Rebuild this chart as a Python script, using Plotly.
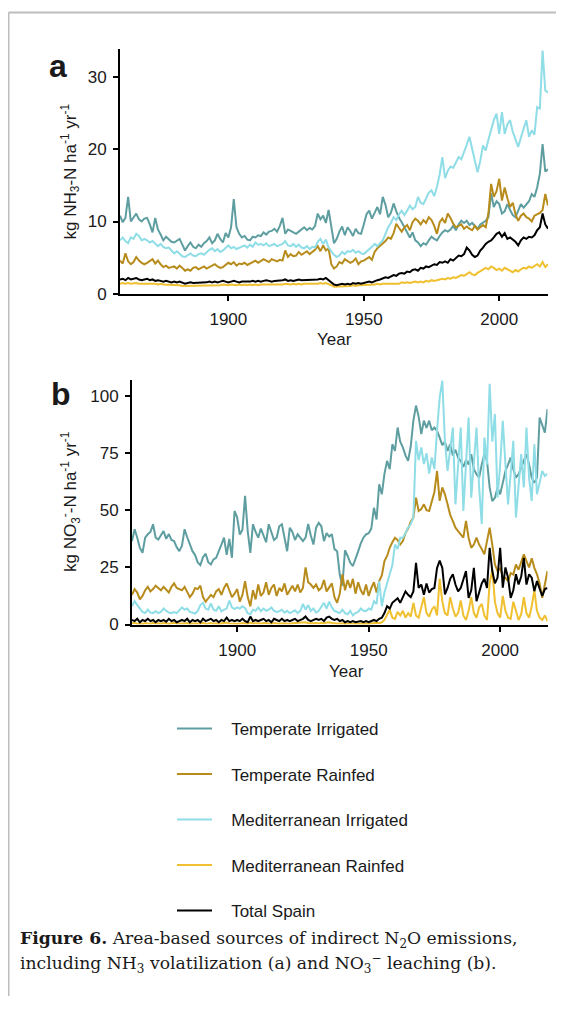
import plotly.graph_objects as go

# the page body keeps its default 8px margin on every side, so the figure is
# drawn 16px smaller than the window; every position below is given in
# window pixels and shifted by that margin. The photographed page comes out
# about 1.2% shorter than laid out, so vertical targets are stretched by SY.
W, H = 564, 1014
PAD = 8
FW, FH = W - 2 * PAD, H - 2 * PAD
SY = 1.012

years = list(range(1860, 2019))

series_names = ['Temperate Irrigated', 'Temperate Rainfed', 'Mediterranean Irrigated',
                'Mediterranean Rainfed', 'Total Spain']
series_colors = ['#5f9ea0', '#b88c1c', '#8fdde6', '#f0c030', '#000000']

# panel a: NH3 volatilization, kg NH3-N / ha / yr, one value per year 1860-2018
nh3_temp_irr = [
    10.8, 9.9, 10.5, 13.4, 10.0, 10.6, 11.1, 10.3, 10.0, 10.4,
    10.5, 9.6, 8.5, 10.5, 8.9, 8.2, 7.4, 7.9, 7.6, 7.2,
    7.1, 7.4, 7.6, 6.8, 6.0, 6.6, 7.1, 6.5, 6.3, 6.8,
    6.5, 7.0, 7.3, 7.8, 7.0, 7.4, 8.3, 7.6, 7.1, 8.4,
    7.8, 9.2, 13.1, 9.2, 8.3, 7.8, 8.0, 7.5, 7.4, 7.9,
    7.8, 8.1, 8.0, 8.5, 8.2, 8.6, 8.7, 9.0, 8.6, 9.4,
    10.5, 8.3, 8.9, 8.7, 8.5, 8.3, 8.6, 8.9, 9.2, 8.8,
    9.1, 8.9, 9.4, 11.1, 10.3, 10.8, 9.8, 11.6, 9.3, 7.0,
    7.6, 8.6, 9.3, 8.1, 9.2, 8.7, 8.0, 9.0, 8.4, 8.3,
    9.6, 11.0, 11.5, 10.4, 11.2, 12.0, 11.0, 13.4, 12.3, 10.6,
    11.2, 12.5, 11.4, 10.5, 9.9, 9.2, 8.4, 7.8, 8.5, 7.4,
    7.1, 6.6, 7.0, 6.8, 7.4, 7.9, 7.6, 7.4, 8.0, 8.5,
    8.8, 8.6, 8.9, 9.4, 8.8, 9.6, 10.1, 9.8, 10.1, 9.5,
    9.8, 9.4, 9.0, 9.6, 9.9, 10.1, 10.6, 13.9, 12.0, 12.8,
    12.4, 11.1, 11.4, 12.4, 11.6, 10.9, 10.6, 11.5, 12.4, 11.9,
    12.4, 12.8, 13.8, 13.4, 14.7, 16.6, 20.7, 16.9, 17.2,
]
nh3_temp_rain = [
    4.6, 4.2, 5.6, 4.5, 4.1, 4.4, 5.1, 4.6, 4.3, 4.1,
    4.3, 4.6, 4.8, 4.2, 4.6, 4.1, 3.7, 3.9, 3.6, 3.7,
    3.8, 3.5, 3.9, 3.6, 3.2, 3.4, 3.2, 3.6, 3.7, 3.4,
    3.6, 3.8, 3.5, 3.7, 3.9, 4.1, 3.8, 3.6, 3.7, 4.0,
    4.3, 4.1, 4.4, 3.9, 4.2, 4.1, 4.3, 4.0, 4.2, 4.4,
    4.6, 4.3, 4.5, 4.8, 4.6, 4.4, 4.8, 4.6, 4.5, 4.7,
    4.6, 6.0, 5.1, 5.5, 5.2, 5.3, 5.8, 5.4, 5.6, 5.9,
    5.5, 5.8, 6.1, 6.6, 5.9, 6.7, 6.0, 6.3, 4.1, 3.5,
    3.8, 4.4, 4.2, 4.8, 4.6, 4.3, 4.5, 4.9, 4.1, 4.5,
    4.6, 4.9, 5.1, 4.7, 5.8, 6.3, 6.6, 6.9, 7.3, 7.8,
    7.6, 8.4, 9.7, 9.1, 8.6, 9.2, 9.5, 8.8, 9.9, 10.4,
    10.1, 9.6, 10.2, 9.8, 10.6, 10.2, 9.4, 8.3, 9.9, 10.4,
    9.8, 11.1, 10.5, 9.7, 9.2, 9.4, 9.6, 9.0, 9.3, 9.0,
    8.8, 9.4, 8.9, 9.2, 9.5, 9.2, 11.1, 15.2, 13.4, 14.2,
    15.9, 12.9, 14.7, 13.2, 12.0, 12.6, 11.0, 10.1, 10.8, 11.1,
    10.6, 10.4, 10.0, 10.8, 11.0, 11.2, 11.6, 13.8, 12.2,
]
nh3_med_irr = [
    7.4, 7.8, 7.3, 7.0, 7.8, 7.6, 8.3, 8.0, 7.4, 7.6,
    7.4, 7.1, 7.3, 6.9, 6.6, 6.9, 6.5, 6.3, 6.4, 6.0,
    5.6, 5.9, 5.5, 5.2, 5.1, 5.4, 5.6, 5.3, 5.2, 5.5,
    5.6, 5.4, 5.8, 6.1, 6.3, 5.9, 6.2, 5.8, 6.0, 6.4,
    6.7, 6.3, 6.5, 6.2, 6.4, 6.6, 6.7, 6.4, 6.8, 6.5,
    7.1, 6.8, 6.9, 6.7, 7.0, 6.6, 6.8, 6.9, 6.6, 6.8,
    6.9, 7.3, 6.7, 6.6, 6.9, 6.5, 6.8, 6.4, 6.3, 6.6,
    6.2, 6.5, 6.4, 7.2, 7.6, 6.9, 7.5, 6.4, 5.9, 5.4,
    5.1, 5.3, 5.8, 5.5, 5.9, 5.8, 6.1, 5.7, 5.9, 5.6,
    5.5, 5.8, 6.1, 6.5, 6.9, 6.6, 7.0, 7.4, 8.3, 9.2,
    9.8, 10.6, 10.2, 11.0, 11.5, 10.9, 11.5, 12.2, 11.7, 12.0,
    13.4, 12.6, 12.4, 13.2, 14.0, 14.3, 13.5, 14.8, 16.5, 18.9,
    16.0, 17.0, 17.6, 17.4, 18.2, 18.9, 18.6, 19.5, 20.6, 21.7,
    19.8, 18.4, 16.8, 18.4, 20.5, 19.8, 21.3, 22.6, 24.0, 24.9,
    22.1, 25.1, 22.1, 23.4, 24.0, 22.4, 21.2, 20.3, 21.6, 22.9,
    24.0, 21.7, 22.6, 22.0, 25.8, 25.6, 33.6, 28.1, 27.8,
]
nh3_med_rain = [
    1.4, 1.5, 1.4, 1.5, 1.4, 1.5, 1.5, 1.4, 1.4, 1.5,
    1.4, 1.4, 1.5, 1.4, 1.3, 1.4, 1.3, 1.3, 1.3, 1.2,
    1.3, 1.2, 1.2, 1.1, 1.1, 1.2, 1.1, 1.1, 1.2, 1.1,
    1.2, 1.1, 1.2, 1.2, 1.1, 1.2, 1.2, 1.2, 1.3, 1.2,
    1.2, 1.3, 1.2, 1.2, 1.3, 1.2, 1.3, 1.2, 1.3, 1.2,
    1.3, 1.2, 1.3, 1.3, 1.2, 1.3, 1.3, 1.2, 1.3, 1.3,
    1.3, 1.4, 1.3, 1.3, 1.4, 1.3, 1.4, 1.3, 1.4, 1.4,
    1.4, 1.3, 1.4, 1.4, 1.5, 1.4, 1.5, 1.4, 1.2, 1.0,
    1.0, 1.1, 1.1, 1.0, 1.1, 1.1, 1.2, 1.1, 1.2, 1.2,
    1.2, 1.3, 1.2, 1.3, 1.3, 1.4, 1.3, 1.4, 1.4, 1.5,
    1.4, 1.5, 1.5, 1.4, 1.6, 1.5, 1.6, 1.5, 1.6, 1.7,
    1.6, 1.7, 1.6, 1.8, 1.7, 1.9, 1.8, 1.9, 2.0, 2.1,
    2.0, 2.2, 2.1, 2.3, 2.2, 2.4, 2.6, 2.5, 2.8, 3.0,
    2.7, 2.6, 2.9, 3.1, 3.4, 3.6, 3.4, 3.8, 3.6, 3.3,
    3.5, 3.2, 3.6, 3.4, 3.2, 3.0, 3.3, 3.1, 3.4, 3.6,
    3.5, 3.8, 3.6, 3.9, 4.1, 3.8, 4.4, 3.7, 4.1,
]
nh3_total = [
    2.0, 2.1, 1.9, 2.2, 2.0, 2.1, 2.2, 2.0, 1.9, 2.0,
    2.1, 1.9, 2.0, 1.8, 1.9, 1.8, 1.7, 1.8, 1.7, 1.6,
    1.7, 1.6, 1.7, 1.5, 1.4, 1.5, 1.6, 1.5, 1.5, 1.6,
    1.6, 1.5, 1.6, 1.7, 1.6, 1.7, 1.6, 1.7, 1.8, 1.7,
    1.6, 1.7, 1.8, 1.7, 1.6, 1.7, 1.7, 1.6, 1.7, 1.8,
    1.7, 1.8, 1.7, 1.8, 1.9, 1.8, 1.7, 1.8, 1.8, 1.9,
    1.9, 2.0, 1.8, 1.9, 1.8, 1.9, 2.0, 1.9, 1.9, 2.0,
    1.9, 2.0, 1.9, 2.0, 2.1, 2.0, 2.2, 1.9, 1.5, 1.3,
    1.2, 1.3, 1.4, 1.3, 1.4, 1.3, 1.5, 1.4, 1.5, 1.4,
    1.5, 1.6, 1.7, 1.6, 1.8, 1.9, 2.0, 2.1, 2.3, 2.2,
    2.4, 2.6, 2.5, 2.8, 2.9, 2.8, 3.1, 3.0, 3.3, 3.4,
    3.2, 3.6, 3.5, 3.8, 3.7, 3.9, 4.1, 4.0, 4.4, 4.3,
    4.5, 4.3, 4.8, 4.6, 5.0, 5.3, 5.2, 5.5, 6.4, 6.0,
    5.4, 5.1, 5.3, 6.0, 6.4, 6.9, 7.2, 7.4, 7.8, 8.3,
    8.5, 7.9, 8.4, 7.6, 7.8, 7.5, 7.2, 6.7, 7.4, 7.8,
    7.6, 7.9, 7.8, 8.1, 8.8, 9.2, 11.1, 9.6, 9.0,
]

# panel b: NO3- leaching, kg NO3-N / ha / yr, one value per year 1860-2018
no3_temp_irr = [
    36.5, 41.7, 38.0, 33.5, 31.4, 38.0, 39.5, 40.5, 43.9, 38.0,
    37.2, 38.8, 40.9, 37.5, 39.6, 37.0, 36.5, 33.8, 32.1, 34.5,
    41.7, 38.2, 35.5, 32.1, 30.4, 27.2, 26.0, 29.5, 31.0, 27.3,
    26.3, 28.5, 29.2, 31.8, 35.0, 38.0, 30.5, 37.5, 29.2, 49.7,
    46.8, 39.4, 41.5, 56.3, 40.9, 31.4, 43.9, 40.5, 38.0, 42.0,
    39.4, 36.0, 43.9, 40.5, 37.0, 38.0, 43.0, 43.9, 38.5, 32.1,
    42.4, 40.5, 37.0, 39.5, 38.0, 36.5, 38.0, 44.0, 39.0, 35.0,
    42.4, 44.5, 43.0, 36.5, 40.0, 38.5, 39.5, 33.0, 32.1, 21.9,
    17.0, 32.5, 30.0, 27.0, 25.6, 28.5, 32.0, 35.5, 38.0, 39.5,
    40.0, 42.0, 51.1, 46.0, 61.4, 57.0, 66.0, 71.6, 68.0, 78.9,
    76.0, 86.2, 80.0, 77.5, 74.0, 71.6, 78.0, 89.2, 95.8, 91.0,
    83.3, 89.2, 86.0, 89.2, 85.0, 86.2, 84.8, 81.8, 78.5, 80.0,
    76.0, 78.9, 74.0, 76.5, 73.0, 71.6, 69.0, 72.0, 70.0, 74.5,
    68.0, 65.8, 64.3, 70.0, 74.6, 71.6, 60.0, 54.0, 55.5, 59.9,
    57.0, 62.0, 67.2, 70.0, 73.1, 68.0, 64.3, 65.8, 69.0, 71.6,
    74.6, 70.0, 64.3, 62.0, 64.3, 90.6, 87.7, 84.0, 94.3,
]
no3_temp_rain = [
    13.0, 15.5, 14.0, 11.0, 12.5, 15.0, 16.5, 14.5, 15.5, 17.0,
    16.0, 15.0, 16.5, 15.0, 14.0, 16.5, 18.0, 16.0, 15.5, 15.0,
    16.5, 14.0, 12.0, 13.5, 16.0, 15.5, 17.0, 12.0, 10.0, 11.5,
    13.0, 12.0, 14.5, 15.5, 13.0, 16.0, 18.0, 15.0, 12.0, 13.5,
    15.5, 10.0, 13.0, 19.0, 12.0, 8.0, 15.0, 11.0, 17.5, 12.5,
    14.0, 18.5, 13.0, 16.0, 17.5, 12.5, 16.0, 14.5, 18.0, 13.0,
    15.0, 17.0, 14.5, 17.5, 14.0, 16.0, 25.0, 18.5, 17.5, 16.0,
    17.5, 15.0, 16.0, 19.5, 14.5, 16.0, 18.0, 12.0, 9.5, 13.5,
    22.0, 15.0, 19.5, 16.0, 20.0, 13.5, 18.5, 15.0, 13.0, 17.5,
    12.5, 16.0, 18.5, 14.0, 19.0, 21.5, 27.8, 30.0, 33.6, 36.0,
    38.0, 37.0, 35.0, 36.5, 40.0, 42.0, 45.0, 46.8, 55.5, 49.7,
    50.5, 52.6, 50.0, 49.7, 54.1, 58.0, 67.2, 54.1, 60.0, 57.0,
    52.6, 48.0, 45.3, 42.4, 40.9, 39.5, 38.0, 45.3, 38.0, 33.6,
    35.0, 38.0, 35.0, 33.0, 30.7, 36.5, 42.4, 35.0, 26.3, 23.4,
    24.5, 21.0, 20.5, 19.0, 22.5, 21.9, 26.3, 24.0, 27.5, 30.7,
    27.8, 25.0, 29.0, 24.8, 22.0, 18.0, 11.7, 17.0, 23.4,
]
no3_med_irr = [
    8.0, 10.2, 8.5, 7.0, 5.5, 5.0, 6.5, 5.2, 5.0, 5.8,
    5.0, 5.5, 7.0, 6.0, 5.2, 5.0, 5.5, 5.0, 6.5, 7.5,
    6.5, 7.0, 5.5, 5.0, 4.8, 6.0, 8.5, 9.5, 7.0, 6.5,
    9.2, 6.5, 6.0, 8.0, 5.8, 6.5, 7.0, 10.5, 7.5, 6.8,
    7.5, 7.0, 8.0, 7.2, 5.0, 4.5, 6.5, 6.0, 7.5, 5.8,
    7.0, 6.0, 6.5, 7.5, 6.0, 5.5, 5.8, 6.5, 5.2, 6.0,
    5.0, 5.5, 6.2, 5.0, 6.0, 9.0, 6.5, 8.5, 6.0, 7.0,
    5.2, 6.0, 7.5, 9.5, 7.0, 10.0, 7.5, 6.0, 5.5, 5.0,
    6.5, 5.0, 4.5, 6.0, 4.0, 5.0, 5.5, 7.0, 6.0, 5.8,
    7.0, 6.5, 10.2, 9.0, 19.0, 8.0, 14.0, 18.0, 22.0, 26.0,
    35.0, 33.0, 38.0, 38.0, 40.0, 42.4, 44.0, 46.8, 80.4, 72.0,
    77.5, 70.2, 75.0, 66.0, 73.1, 68.0, 85.0, 99.4, 106.7, 80.0,
    67.2, 78.0, 86.2, 52.6, 70.0, 86.2, 49.7, 72.0, 90.6, 55.5,
    70.0, 86.2, 60.0, 43.9, 81.8, 70.0, 105.3, 80.0, 92.1, 55.5,
    70.0, 89.2, 70.0, 52.6, 66.0, 80.4, 46.8, 60.0, 74.6, 60.0,
    86.2, 64.0, 54.1, 78.9, 57.0, 62.0, 67.2, 65.0, 66.0,
]
no3_med_rain = [
    0.5, 0.8, 0.4, 0.6, 0.3, 0.7, 0.5, 0.4, 0.8, 0.5,
    0.6, 0.4, 0.7, 0.5, 0.3, 0.6, 0.8, 0.5, 0.4, 0.6,
    0.5, 0.7, 0.3, 0.5, 0.4, 0.6, 0.5, 0.8, 0.4, 0.5,
    0.7, 0.4, 0.6, 0.3, 0.5, 0.6, 0.9, 0.5, 0.4, 0.6,
    0.5, 0.4, 0.7, 0.5, 0.3, 0.9, 0.5, 0.6, 0.4, 0.5,
    0.7, 0.5, 0.6, 0.3, 0.7, 0.5, 0.4, 0.6, 0.5, 0.7,
    0.4, 0.6, 0.7, 0.5, 0.6, 0.8, 1.0, 0.6, 0.5, 0.6,
    0.7, 0.5, 0.8, 0.5, 0.9, 1.0, 0.7, 0.5, 0.6, 0.4,
    0.6, 0.3, 0.5, 0.3, 0.4, 0.3, 0.4, 0.5, 0.3, 0.5,
    0.4, 0.6, 0.5, 0.8, 0.6, 1.0, 2.0, 4.0, 6.5, 3.0,
    2.5, 5.5, 4.0, 6.0, 3.0, 5.0, 3.5, 9.5, 4.0, 3.0,
    8.0, 12.0, 5.0, 3.5, 6.5, 8.0, 4.0, 20.0, 10.0, 5.0,
    4.0, 12.0, 7.0, 3.5, 5.0, 10.5, 4.0, 2.0, 6.0, 12.0,
    5.0, 3.0, 7.5, 9.0, 4.0, 2.0, 18.0, 24.0, 10.0, 5.0,
    3.0, 12.5, 6.0, 3.0, 2.5, 10.0, 6.0, 2.0, 4.5, 12.0,
    5.0, 3.0, 8.0, 15.0, 6.0, 3.0, 2.0, 4.0, 1.5,
]
no3_total = [
    2.0, 1.5, 2.5, 1.0, 2.0, 1.5, 2.5, 1.5, 2.0, 1.0,
    2.0, 1.5, 2.0, 1.2, 2.5, 1.5, 2.0, 1.0, 1.5, 2.0,
    1.5, 2.5, 1.0, 2.0, 1.5, 2.0, 1.0, 2.5, 1.5, 2.0,
    2.5, 1.5, 2.0, 1.0, 2.0, 1.5, 3.0, 1.5, 2.0, 1.5,
    2.0, 1.5, 2.5, 1.5, 1.0, 3.5, 1.5, 2.0, 1.5, 2.0,
    2.5, 1.5, 2.0, 1.0, 2.5, 2.0, 1.5, 2.5, 1.5, 2.0,
    1.5, 2.0, 2.5, 1.5, 2.0, 2.5, 3.5, 2.0, 1.5, 2.0,
    2.5, 2.0, 2.5, 1.5, 3.0, 3.5, 2.5, 2.0, 2.5, 1.5,
    2.0, 1.0, 1.5, 1.0, 1.5, 1.0, 1.2, 1.5, 1.0, 1.5,
    1.0, 1.5, 2.0, 1.5, 2.5, 3.0, 5.0, 8.0, 7.0, 9.5,
    10.5, 11.5, 9.5, 12.0, 14.5, 13.0, 12.0, 14.5, 27.0, 16.0,
    17.5, 13.0, 18.0, 14.0, 15.5, 16.0, 24.8, 28.0, 24.8, 13.2,
    16.0, 20.0, 22.0, 17.5, 14.5, 16.0, 20.0, 23.4, 11.7, 15.0,
    24.8, 10.2, 14.0, 18.0, 20.0, 16.0, 33.6, 23.4, 18.0, 20.5,
    33.6, 16.1, 25.0, 20.5, 11.7, 15.0, 22.0, 17.5, 21.0, 29.2,
    17.5, 22.0, 20.5, 14.6, 19.0, 16.0, 12.5, 15.5, 16.0,
]

panel_a = [nh3_temp_irr, nh3_temp_rain, nh3_med_irr, nh3_med_rain, nh3_total]
panel_b = [no3_temp_irr, no3_temp_rain, no3_med_irr, no3_med_rain, no3_total]

FONT = 'Liberation Sans, Arial, sans-serif'
INK = '#1a1a1a'


def px_x(p):
    # window pixel -> paper fraction
    return (p - PAD) / FW


def px_y(p):
    return 1 - (p * SY - PAD) / FH


fig = go.Figure()

for name, color, ya, yb in zip(series_names, series_colors, panel_a, panel_b):
    fig.add_trace(go.Scatter(
        x=years, y=ya, mode='lines',
        name='\u00a0\u00a0\u00a0' + name,
        legendgroup=name,
        line=dict(color=color, width=2),
        xaxis='x', yaxis='y',
    ))
    fig.add_trace(go.Scatter(
        x=years, y=yb, mode='lines', name=name,
        legendgroup=name, showlegend=False,
        line=dict(color=color, width=2),
        xaxis='x2', yaxis='y2',
    ))

axis_style = dict(
    showline=True, linecolor='black', linewidth=2,
    ticks='outside', ticklen=5, tickwidth=1.5, tickcolor='black',
    showgrid=False, zeroline=False,
    tickfont=dict(family=FONT, size=17, color=INK),
)

fig.update_layout(
    width=FW, height=FH, autosize=False,
    margin=dict(l=0, r=0, t=0, b=0),
    paper_bgcolor='white', plot_bgcolor='white',
    font=dict(family=FONT, size=17, color=INK),
    xaxis=dict(domain=[px_x(120), px_x(548)], range=[1860, 2018], anchor='y',
               tickvals=[1900, 1950, 2000], ticklabelstandoff=4, **axis_style),
    yaxis=dict(domain=[px_y(293.3), px_y(49)], range=[0, 33.8], anchor='x',
               tickvals=[0, 10, 20, 30], ticklabelstandoff=3, **axis_style),
    xaxis2=dict(domain=[px_x(132), px_x(547.5)], range=[1860, 2018], anchor='y2',
                tickvals=[1900, 1950, 2000], ticklabelstandoff=4, **axis_style),
    yaxis2=dict(domain=[px_y(623.3), px_y(379)], range=[0, 107.1], anchor='x2',
                tickvals=[0, 25, 50, 75, 100], ticklabelstandoff=3, **axis_style),
    showlegend=True,
    legend=dict(
        x=px_x(172), y=1 - (718 - PAD) / FH, xanchor='left', yanchor='top',
        font=dict(family=FONT, size=17, color=INK),
        tracegroupgap=20.4, traceorder='grouped',
        bgcolor='rgba(0,0,0,0)', itemwidth=35,
    ),
)

annotations = [
    # panel letters
    dict(text='<b>a</b>', x=px_x(58), y=px_y(66), font=dict(size=32)),
    dict(text='<b>b</b>', x=px_x(61), y=px_y(393), font=dict(size=32)),
    # axis titles
    dict(text='kg NH<sub>3</sub>-N ha<sup>-1</sup> yr<sup>-1</sup>', x=px_x(70), y=px_y(171),
         textangle=-90),
    dict(text='kg NO<sub>3</sub><sup>-</sup>-N ha<sup>-1</sup> yr<sup>-1</sup>', x=px_x(70),
         y=px_y(501), textangle=-90),
    dict(text='Year', x=px_x(334), y=px_y(339)),
    dict(text='Year', x=px_x(346), y=px_y(670)),
]
for a in annotations:
    a.update(xref='paper', yref='paper', showarrow=False, xanchor='center', yanchor='middle')
    fig.add_annotation(**a)

caption_font = dict(family='DejaVu Serif, Liberation Serif, serif', size=17.2, color=INK)
fig.add_annotation(
    text='<b>Figure 6.</b> Area-based sources of indirect N<sub>2</sub>O emissions,',
    x=px_x(18), y=px_y(938), xref='paper', yref='paper', showarrow=False,
    xanchor='left', yanchor='middle', font=caption_font,
)
fig.add_annotation(
    text='including NH<sub>3</sub> volatilization (a) and NO<sub>3</sub><sup>\u2212</sup> leaching (b).',
    x=px_x(18), y=px_y(962), xref='paper', yref='paper', showarrow=False,
    xanchor='left', yanchor='middle', font=caption_font,
)

# grey page frame (left and top edges), kept inside the figure
fig.add_shape(type='line', xref='paper', yref='paper', x0=px_x(8.5), x1=px_x(8.5),
              y0=0, y1=px_y(12.5), line=dict(color='#bdbdbd', width=2))
fig.add_shape(type='line', xref='paper', yref='paper', x0=px_x(8.5), x1=1,
              y0=px_y(12.5), y1=px_y(12.5), line=dict(color='#bdbdbd', width=2))

fig.write_html("out.html")
